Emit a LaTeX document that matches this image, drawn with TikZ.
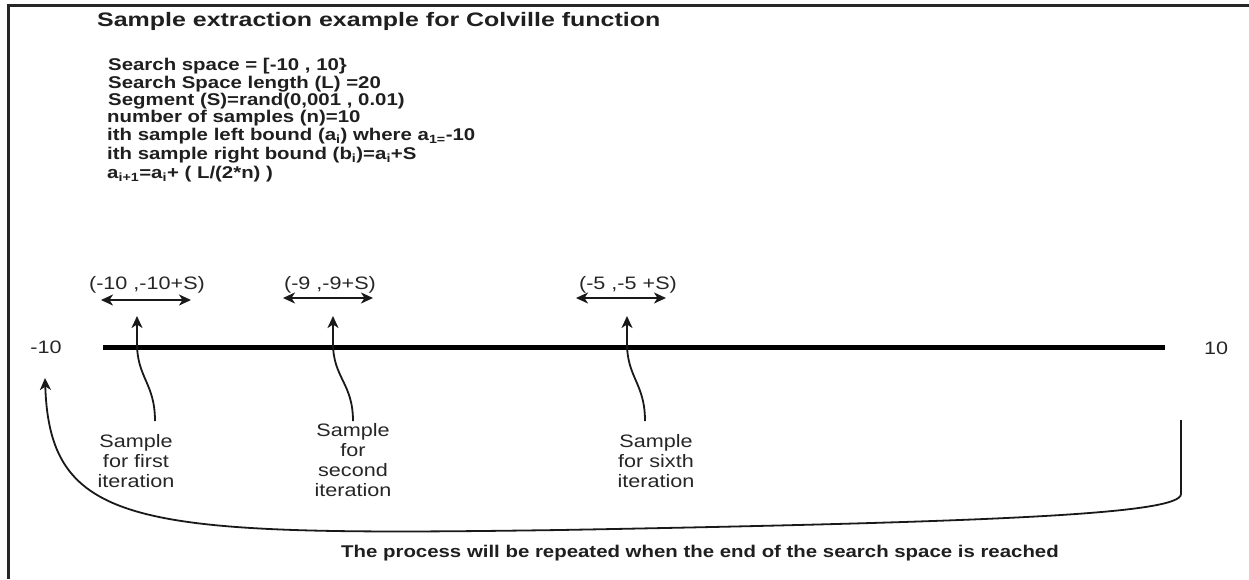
\documentclass[tikz,border=0pt]{standalone}
\usepackage{fontspec}
\setmainfont{Liberation Sans}
\newfontfamily\widesans[FakeStretch=1.2]{Liberation Sans}
\newfontfamily\headsans[FakeStretch=1.28]{Liberation Sans}
\usetikzlibrary{arrows.meta,calc}
\begin{document}
\begin{tikzpicture}[x=1pt,y=-1pt,
  ink/.style={draw=black!90},
  tip/.style={-{Stealth[length=12pt,width=11pt,inset=3.5pt]}},
  bothtips/.style={{Stealth[length=12pt,width=11pt,inset=3.5pt]}-{Stealth[length=12pt,width=11pt,inset=3.5pt]}},
  info/.style={anchor=base west,inner sep=0pt,font=\widesans\fontsize{17}{20}\selectfont\bfseries,text=black!88},
  lbl/.style={inner sep=0pt,font=\widesans\fontsize{18}{20}\selectfont,text=black!85},
  sample/.style={lbl,align=center}
]
\useasboundingbox (0,0) rectangle (1249,579);
\fill[white] (0,0) rectangle (1249,579);

% frame
\draw[line width=3pt,black!85] (8.5,579) -- (8.5,5.5) -- (1249,5.5);

% heading and definitions
\node[info,font=\headsans\fontsize{19.5}{22}\selectfont\bfseries] (title) at (97,26) {Sample extraction example for Colville function};
\node[info] (l1) at (108,70.5) {Search space = [-10 , 10\}};
\node[info] (l2) at (108,88.5) {Search Space length (L) =20};
\node[info] (l3) at (108,105.5) {Segment (S)=rand(0,001 , 0.01)};
\node[info] (l4) at (107,122.5) {number of samples (n)=10};
\node[info] (l5) at (107,140.5) {ith sample left bound (a\textsubscript{i}) where a\textsubscript{1=}-10};
\node[info] (l6) at (107,159.5) {ith sample right bound (b\textsubscript{i})=a\textsubscript{i}+S};
\node[info] (l7) at (107,178.5) {a\textsubscript{i+1}=a\textsubscript{i}+ ( L/(2*n) )};

% search space axis
\coordinate (axL) at (103,347);
\coordinate (axR) at (1165,347);
\draw[line width=5pt,black] (axL) -- (axR);
\node[lbl] (lo) at (46,347) {-10};
\node[lbl] (hi) at (1216,348) {10};

% sample intervals
\node[lbl] (s1) at (147,285) {(-10 ,-10+S)};
\node[lbl] (s2) at (330,285) {(-9 ,-9+S)};
\node[lbl] (s3) at (628,285) {(-5 ,-5 +S)};
\coordinate (s1a) at (101,300); \coordinate (s1b) at (191,300);
\coordinate (s2a) at (283,298); \coordinate (s2b) at (373,298);
\coordinate (s3a) at (576,298); \coordinate (s3b) at (666,298);
\draw[ink,line width=1.8pt,bothtips] (s1a) -- (s1b);
\draw[ink,line width=1.8pt,bothtips] (s2a) -- (s2b);
\draw[ink,line width=1.8pt,bothtips] (s3a) -- (s3b);

% iteration labels
\node[sample,anchor=north] (it1) at (136,434) {Sample\\for first\\iteration};
\node[sample,anchor=north] (it2) at (353,423) {Sample\\for\\second\\iteration};
\node[sample,anchor=north] (it3) at (656,434) {Sample\\for sixth\\iteration};

% pointers from labels to intervals
\coordinate (p1) at (137,316); \coordinate (q1) at (155,421);
\coordinate (p2) at (333,316); \coordinate (q2) at (353,421);
\coordinate (p3) at (627,316); \coordinate (q3) at (645,421);
\draw[ink,line width=1.8pt,tip] (q1) .. controls ($(q1)+(0,-38)$) and ($(p1)+(0,62)$) .. ($(p1)+(0,27)$) -- (p1);
\draw[ink,line width=1.8pt,tip] (q2) .. controls ($(q2)+(0,-38)$) and ($(p2)+(0,62)$) .. ($(p2)+(0,27)$) -- (p2);
\draw[ink,line width=1.8pt,tip] (q3) .. controls ($(q3)+(0,-38)$) and ($(p3)+(0,62)$) .. ($(p3)+(0,27)$) -- (p3);

% return loop
\coordinate (rs) at (1181,420);
\coordinate (re) at (45,378);
\draw[ink,line width=1.8pt,tip] (rs) -- (1181,494) .. controls (1181,514) and (1000,522) .. (560,530) .. controls (140,536) and (50,530) .. (re);
\node[info,anchor=center] (note) at (700,553) {The process will be repeated when the end of the search space is reached};
\end{tikzpicture}
\end{document}
